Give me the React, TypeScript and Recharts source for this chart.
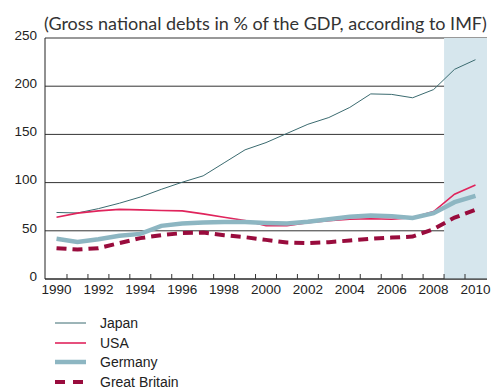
import React from "react";
import {
  CartesianGrid,
  Line,
  LineChart,
  ReferenceArea,
  XAxis,
  YAxis,
} from "recharts";

// IMF gross national debt, % of GDP
const years = [
  1990, 1991, 1992, 1993, 1994, 1995, 1996, 1997, 1998, 1999, 2000, 2001, 2002,
  2003, 2004, 2005, 2006, 2007, 2008, 2009, 2010,
];
const japan = [
  69, 68.5, 73, 78.6, 85, 93, 100.4, 107, 120.5, 134, 141.5, 151, 160.5, 167.5,
  178, 192, 191.5, 188, 196.5, 217.5, 227.5,
];
const usa = [
  64, 68.3, 70.7, 72.2, 71.7, 71, 70.7, 67.6, 64.1, 60.6, 55.3, 55.3, 58.5,
  60.5, 62, 62.5, 62, 63.7, 70, 88, 97.6,
];
const germany = [
  41.7, 38.5, 41.3, 44.8, 46.8, 55.1, 57.5, 58.5, 59, 59, 58.2, 57.5, 59.3, 62,
  64.5, 65.8, 65, 63.3, 68.3, 79.7, 86.2,
];
const britain = [
  32, 30.5, 32, 37.2, 42.4, 45.5, 47.6, 48.2, 45.5, 43.4, 40.6, 37.8, 37.2,
  38.2, 39.9, 41.7, 43, 44, 51.7, 63.7, 71.7,
];
const yTicks = [0, 50, 100, 150, 200, 250];
const xLabels = [1990, 1992, 1994, 1996, 1998, 2000, 2002, 2004, 2006, 2008, 2010];
const xMarks = years.slice(0, -1).map((y) => y + 0.5);
const forecastFrom = 2008.5;

const title = "(Gross national debts in % of the GDP, according to IMF)";

const series = [
  { key: "japan", name: "Japan", color: "#3b6b70", width: 1, dash: undefined },
  { key: "usa", name: "USA", color: "#e0245c", width: 1.6, dash: undefined },
  { key: "germany", name: "Germany", color: "#8db6c2", width: 4.5, dash: undefined },
  { key: "britain", name: "Great Britain", color: "#990c3d", width: 4, dash: "10 6" },
];

const data = years.map((year, i) => ({
  year,
  japan: japan[i],
  usa: usa[i],
  germany: germany[i],
  britain: britain[i],
}));

const FONT = "'Liberation Sans', Arial, sans-serif";

function YearTick({ x, y, payload }: any) {
  const v = payload.value;
  if (Number.isInteger(v)) {
    return (
      <text x={x} y={y} dy={15} textAnchor="middle" fontSize={13.5} fill="#222" fontFamily={FONT}>
        {v}
      </text>
    );
  }
  return <line x1={x} x2={x} y1={y} y2={y - 5} stroke="#333" strokeWidth={1} />;
}

export default function App() {
  return (
    <div style={{ position: "absolute", left: 0, top: 0, width: 491, height: 390, background: "#fff" }}>
      <div
        style={{
          position: "absolute",
          left: 44,
          top: 12,
          fontFamily: "Lato, sans-serif",
          fontSize: 18,
          lineHeight: "22px",
          color: "#333",
          whiteSpace: "nowrap",
        }}
      >
        {title}
      </div>
      <LineChart
        width={491}
        height={300}
        data={data}
        margin={{ top: 38, right: 4, bottom: 0, left: 0 }}
      >
        <ReferenceArea
          x1={forecastFrom}
          x2={2010.55}
          fill="#d6e6ed"
          fillOpacity={1}
          stroke="none"
        />
        <CartesianGrid vertical={false} stroke="#333" strokeWidth={1} />
        <XAxis
          dataKey="year"
          type="number"
          domain={[1989.45, 2010.55]}
          allowDataOverflow
          ticks={[...xLabels, ...xMarks].sort((a, b) => a - b)}
          interval={0}
          tickLine={false}
          tickSize={0}
          tickMargin={0}
          height={21}
          axisLine={{ stroke: "#222" }}
          tick={<YearTick />}
        />
        <YAxis
          type="number"
          domain={[0, 250]}
          ticks={yTicks}
          width={45}
          tickLine={false}
          axisLine={{ stroke: "#222" }}
          tick={{ fontSize: 13.5, fill: "#222", fontFamily: FONT, dy: -3 }}
        />
        {series.map((s) => (
          <Line
            key={s.key}
            dataKey={s.key}
            name={s.name}
            type="linear"
            stroke={s.color}
            strokeWidth={s.width}
            strokeDasharray={s.dash}
            dot={false}
            isAnimationActive={false}
          />
        ))}
      </LineChart>
      <div style={{ position: "absolute", left: 55, top: 313, fontFamily: FONT, fontSize: 14, color: "#222" }}>
        {series.map((s) => (
          <div key={s.key} style={{ display: "flex", alignItems: "center", height: 19.7 }}>
            <svg width={32} height={8} style={{ marginRight: 13 }}>
              <line
                x1={0}
                x2={31}
                y1={4}
                y2={4}
                stroke={s.color}
                strokeWidth={s.width}
                strokeDasharray={s.dash ? "10 8" : undefined}
              />
            </svg>
            <span>{s.name}</span>
          </div>
        ))}
      </div>
    </div>
  );
}
